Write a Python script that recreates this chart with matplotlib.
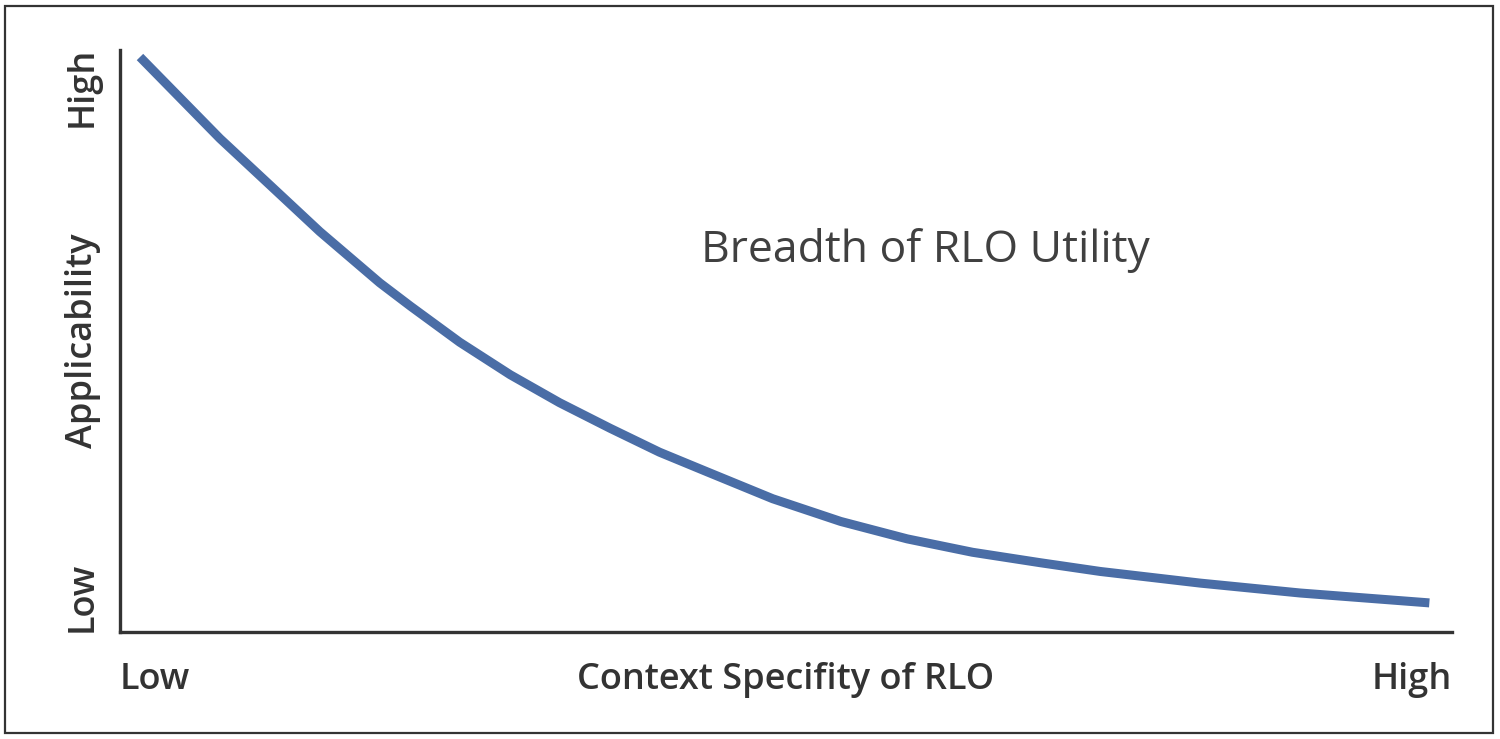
import matplotlib
matplotlib.use("Agg")
import matplotlib.pyplot as plt
from matplotlib.patches import Rectangle

# Data (normalized context specificity vs applicability)
specificity = [0.015, 0.075, 0.113, 0.150, 0.195, 0.218, 0.255, 0.293, 0.330,
               0.368, 0.405, 0.441, 0.490, 0.541, 0.591, 0.640, 0.691, 0.736,
               0.811, 0.886, 0.983]
applicability = [0.988, 0.848, 0.767, 0.688, 0.600, 0.560, 0.498, 0.442, 0.394,
                 0.350, 0.309, 0.275, 0.229, 0.190, 0.160, 0.137, 0.119, 0.104,
                 0.084, 0.067, 0.050]
x_tick_labels = ["Low", "High"]
y_tick_labels = ["Low", "High"]
x_label = "Context Specifity of RLO"
y_label = "Applicability"
curve_label = "Breadth of RLO Utility"

plt.rcParams['font.family'] = ['Open Sans', 'DejaVu Sans']

fig = plt.figure(figsize=(15, 7.39), dpi=100)
ax = fig.add_axes([0.08, 0.1448, 0.888, 0.7875])

ax.plot(specificity, applicability, color="#4a6da6", lw=6.5,
        solid_capstyle="butt", solid_joinstyle="round")
ax.set_xlim(0, 1)
ax.set_ylim(0, 1)
for s in ["top", "right"]:
    ax.spines[s].set_visible(False)
for s in ["left", "bottom"]:
    ax.spines[s].set_color("#333333")
    ax.spines[s].set_linewidth(2.4)
ax.set_xticks([])
ax.set_yticks([])

tc = "#333333"
fs = 26
ax.text(0.0, -0.082, x_tick_labels[0], transform=ax.transAxes, ha="left", va="center",
        fontsize=fs, fontweight="semibold", color=tc)
ax.text(1.0, -0.082, x_tick_labels[1], transform=ax.transAxes, ha="right", va="center",
        fontsize=fs, fontweight="semibold", color=tc)
ax.text(0.5, -0.082, x_label, transform=ax.transAxes, ha="center", va="center",
        fontsize=fs, fontweight="semibold", color=tc)
ax.text(-0.028, 0.0, y_tick_labels[0], transform=ax.transAxes, ha="center", va="bottom",
        rotation=90, fontsize=fs, fontweight="semibold", color=tc)
ax.text(-0.028, 1.005, y_tick_labels[1], transform=ax.transAxes, ha="center", va="top",
        rotation=90, fontsize=fs, fontweight="semibold", color=tc)
ax.text(-0.028, 0.5, y_label, transform=ax.transAxes, ha="center", va="center",
        rotation=90, fontsize=fs, fontweight="semibold", color=tc)
ax.text(0.605, 0.655, curve_label, transform=ax.transAxes, ha="center", va="center",
        fontsize=32, color="#404040")

fig.patches.append(Rectangle((5/1500, 6/739), 1488/1500, 727/739, transform=fig.transFigure,
                             fill=False, edgecolor="#333333", lw=1.6))

fig.savefig("out.png", dpi=100, facecolor="white")
